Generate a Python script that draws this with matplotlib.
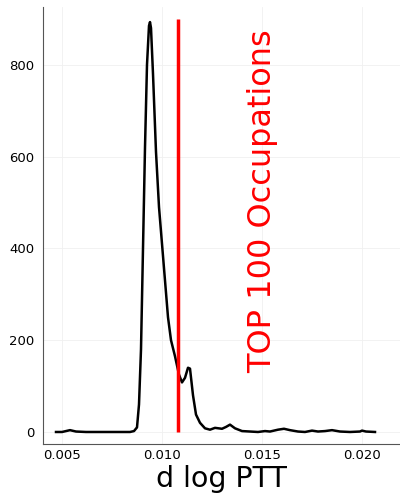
import numpy as np
import matplotlib.pyplot as plt

# density estimate of d log PTT
x = [0.0047, 0.0050, 0.0054, 0.0057, 0.0062, 0.0084, 0.0086, 0.00875, 0.00885,
     0.00895, 0.00905, 0.00915, 0.00925, 0.00935, 0.0094, 0.00945, 0.00955,
     0.0097, 0.00985, 0.0100, 0.01015, 0.0103, 0.01045, 0.01065, 0.01085,
     0.0110, 0.01115, 0.0113, 0.0114, 0.01155, 0.0117, 0.0119, 0.01215, 0.0124,
     0.01265, 0.0130, 0.0132, 0.0134, 0.01365, 0.0140, 0.0144, 0.0148, 0.01515,
     0.0154, 0.0158, 0.0161, 0.0164, 0.0168, 0.01715, 0.0175, 0.0178, 0.01815,
     0.0185, 0.0189, 0.0194, 0.0199, 0.0200, 0.0202, 0.02065]
density = [0, 0, 4, 1, 0, 0, 2, 10, 60,
           180, 400, 620, 800, 885, 893, 880, 780,
           610, 490, 410, 330, 250, 200, 165, 125,
           108, 118, 140, 138, 80, 38, 20, 8, 5,
           9, 7, 11, 16, 8, 2, 1, 0, 2,
           1, 5, 7, 4, 1, 0, 3, 1, 2,
           4, 1, 0, 1, 3, 1, 0]

cutoff = 0.0108
cutoff_top = 900
label = 'TOP 100 Occupations'

fig = plt.figure(figsize=(4, 4.96), dpi=100)
ax = fig.add_axes([0.1075, 0.105, 0.8925, 0.881])

ax.plot(x, density, color='black', lw=1.8)
ax.vlines(cutoff, 0, cutoff_top, color='red', lw=2.5)
ax.text(0.01505, 502, label, color='red', rotation=90,
        ha='center', va='center', fontsize=23)

ax.set_xlim(0.00405, 0.0219)
ax.set_ylim(-26, 926)
ax.set_xticks([0.005, 0.010, 0.015, 0.020])
ax.set_xticklabels(['0.005', '0.010', '0.015', '0.020'])
ax.set_yticks([0, 200, 400, 600, 800])
ax.set_xlabel('d log PTT', fontsize=20.5, labelpad=2)

ax.grid(True, color='#f0f0f0', lw=0.6)
ax.set_axisbelow(True)
for s in ['top', 'right']:
    ax.spines[s].set_visible(False)
for s in ['left', 'bottom']:
    ax.spines[s].set_color('#555555')
ax.tick_params(axis='x', length=0, labelsize=9.5, pad=4)
ax.tick_params(axis='y', length=0, labelsize=9.5, pad=6)

plt.savefig('out.png', dpi=100)
